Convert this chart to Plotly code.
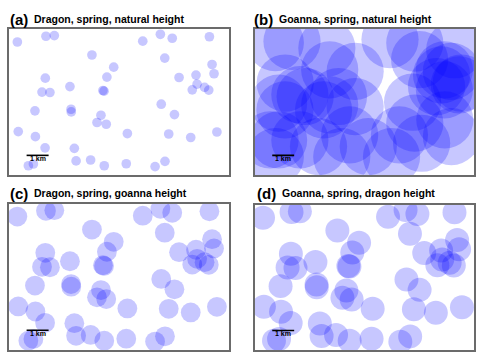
import plotly.graph_objects as go

# ---- data (km) ----
dragon_x = [0.38, 1.68, 2.06, 6.08, 6.88, 7.42, 9.11, 3.77, 7.08, 4.76, 9.23, 9.32,
            1.65, 4.45, 7.73, 8.50, 8.55, 2.77, 1.50, 1.86, 4.27, 4.32, 8.33, 8.89,
            9.08, 1.18, 2.82, 2.83, 6.92, 4.18, 7.52, 4.00, 4.42, 0.42, 1.20, 5.38,
            7.26, 8.26, 9.45, 1.64, 2.97, 3.05, 3.71, 4.33, 5.33, 6.64, 7.09, 0.88, 1.11]
dragon_y = [6.03, 6.29, 6.32, 6.07, 6.38, 6.20, 6.27, 5.44, 5.30, 4.89, 5.01, 4.59,
            4.39, 4.44, 4.42, 4.53, 4.12, 4.01, 3.76, 3.74, 3.83, 3.80, 3.86, 3.97,
            3.85, 2.91, 2.98, 2.86, 3.21, 2.71, 2.74, 2.38, 2.30, 1.97, 1.74, 1.88,
            1.86, 1.70, 1.95, 1.23, 1.21, 0.64, 0.68, 0.42, 0.51, 0.38, 0.62, 0.42, 0.50]

goanna_x = [1.70, 0.94, 3.29, 4.58, 6.17, 7.30, 9.12, 8.52, 8.97, 8.29, 9.42, 1.39,
            2.30, 1.09, 3.82, 3.14, 4.58, 7.20, 7.30, 8.67, 1.09, 0.94, 2.91, 3.97,
            5.18, 6.24, 7.61, 8.97, 6.60,
            2.06, 1.38, 3.42, 8.65, 9.33, 8.65, 7.52, 2.06, 4.33, 0.70, 3.42]
goanna_y = [6.06, 6.00, 5.76, 4.70, 6.14, 5.98, 5.68, 4.54, 4.70, 4.01, 4.17, 4.17,
            3.56, 3.26, 3.56, 2.95, 3.10, 3.30, 2.35, 2.50, 1.59, 0.83, 1.29, 0.83,
            1.29, 0.83, 1.44, 1.74, 1.82,
            3.64, 2.95, 3.18, 4.77, 4.09, 3.86, 5.23, 1.59, 1.82, 1.59, 4.77]

panel_labels = ["(a)", "(b)", "(c)", "(d)"]
panel_titles = ["Dragon, spring, natural height", "Goanna, spring, natural height",
                "Dragon, spring, goanna height", "Goanna, spring, dragon height"]
scale_x = [0.8, 1.8]
scale_y = [0.89, 0.89]
scale_label = "1 km"

# ---- styling / layout ----
W, H = 484, 356
PX_PER_KM = 22.0
radii = [0.22, 1.30, 0.45, 0.545]
FILL = "rgba(0,0,255,0.22)"
X_RANGE = [0, 10]
Y_RANGE = [0, 6.62]

# panel frames in pixels: (left, right, top, bottom)
frames = [(9, 229, 29, 175), (254.7, 474, 29, 175),
          (9, 229, 203.5, 350), (254.7, 474, 204.7, 350)]
label_pos = [(8, 32, 19.5), (252, 277, 19.5), (8, 32, 193.5), (255, 280, 193.5)]

panel_data = [(dragon_x, dragon_y), (goanna_x, goanna_y),
              (dragon_x, dragon_y), (dragon_x, dragon_y)]

fig = go.Figure()
annotations = []
for i in range(4):
    ax = "" if i == 0 else str(i + 1)
    l, r, t, b = frames[i]
    xs, ys = panel_data[i]
    fig.add_trace(go.Scatter(
        x=xs, y=ys, mode="markers", xaxis="x" + ax, yaxis="y" + ax,
        marker=dict(size=2 * radii[i] * PX_PER_KM, color=FILL, line=dict(width=0)),
        hoverinfo="skip", showlegend=False, cliponaxis=True))
    fig.add_trace(go.Scatter(
        x=scale_x, y=scale_y, mode="lines", xaxis="x" + ax, yaxis="y" + ax,
        line=dict(color="black", width=1.6), hoverinfo="skip", showlegend=False))
    annotations.append(dict(
        x=sum(scale_x) / 2, y=scale_y[0], xref="x" + ax, yref="y" + ax,
        text="<b>%s</b>" % scale_label, showarrow=False, yanchor="top", yshift=2,
        font=dict(family="Liberation Sans, Arial", size=7, color="black")))
    lx, tx, ly = label_pos[i]
    annotations.append(dict(
        x=lx / W, y=1 - ly / H, xref="paper", yref="paper", xanchor="left",
        yanchor="middle", showarrow=False, text="<b>%s</b>" % panel_labels[i],
        font=dict(family="Liberation Sans, Arial", size=15, color="black")))
    annotations.append(dict(
        x=tx / W, y=1 - (ly - 0.5) / H, xref="paper", yref="paper", xanchor="left",
        yanchor="middle", showarrow=False, text="<b>%s</b>" % panel_titles[i],
        font=dict(family="Liberation Sans, Arial", size=10.5, color="black")))
    axis_common = dict(showgrid=False, zeroline=False, showticklabels=False,
                       ticks="", showline=True, mirror=True, linecolor="#6b6b6b",
                       linewidth=1.8, fixedrange=True)
    fig.layout["xaxis" + ax] = dict(domain=[l / W, r / W], range=X_RANGE,
                                    anchor="y" + ax, **axis_common)
    fig.layout["yaxis" + ax] = dict(domain=[1 - b / H, 1 - t / H], range=Y_RANGE,
                                    anchor="x" + ax, **axis_common)

fig.update_layout(width=W, height=H, margin=dict(l=0, r=0, t=0, b=0),
                  paper_bgcolor="white", plot_bgcolor="white",
                  annotations=annotations, showlegend=False)
fig.write_html("out.html", config={"displayModeBar": False},
               post_script="document.body.style.margin='0px';")
